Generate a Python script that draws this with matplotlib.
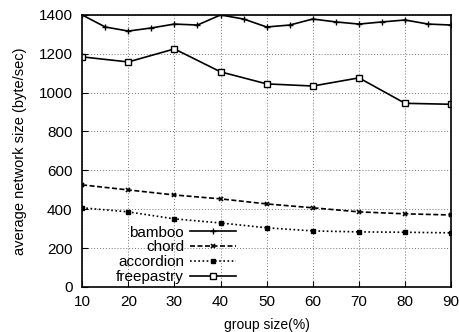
import matplotlib
matplotlib.use("Agg")
import matplotlib.pyplot as plt

plt.rcParams['font.family'] = ['Liberation Sans', 'DejaVu Sans']

# bamboo sampled every 5%, the others every 10%
x_bamboo = [10, 15, 20, 25, 30, 35, 40, 45, 50, 55, 60, 65, 70, 75, 80, 85, 90]
bamboo = [1400, 1338, 1317, 1333, 1353, 1348, 1400, 1379, 1338, 1348,
          1379, 1364, 1353, 1364, 1374, 1353, 1348]
x_group = [10, 20, 30, 40, 50, 60, 70, 80, 90]
chord = [525, 499, 473, 453, 427, 407, 386, 376, 370]
accordion = [407, 386, 350, 329, 304, 288, 283, 281, 278]
freepastry = [1184, 1158, 1225, 1107, 1045, 1034, 1076, 945, 940]

fig = plt.figure(figsize=(4.59, 3.32), dpi=100)
ax = fig.add_axes([0.179, 0.136, 0.804, 0.819])

ax.plot(x_bamboo, bamboo, color='black', lw=1.2, marker='+', ms=5, mew=1, label='bamboo')
ax.plot(x_group, chord, color='black', lw=1.2, ls=(0, (3, 1.5)), marker='x', ms=3.5, mew=1.2, label='chord')
ax.plot(x_group, accordion, color='black', lw=1.2, ls=(0, (1, 1.5)), marker='s', ms=3, label='accordion')
ax.plot(x_group, freepastry, color='black', lw=1.2, marker='s', ms=4.5, mfc='white', mew=1, label='freepastry')

ax.set_xlim(10, 90)
ax.set_ylim(0, 1400)
ax.set_xticks(x_group)
ax.set_yticks(range(0, 1401, 200))
ax.grid(True, ls=(0, (1, 2)), color='#777777', lw=0.7)
ax.tick_params(direction='in', labelsize=11, length=4)
ax.tick_params(axis='y', pad=7)
ax.tick_params(axis='x', pad=6)
for s in ax.spines.values():
    s.set_linewidth(1.2)

ax.set_xlabel('group size(%)', fontsize=10, labelpad=6)
ax.set_ylabel('average network size (byte/sec)', fontsize=10.5, labelpad=8)

ax.legend(loc='lower left', bbox_to_anchor=(0.055, -0.04), frameon=False, markerfirst=False,
          fontsize=11, handlelength=3, labelspacing=0.05, handletextpad=0.4)

fig.savefig('out.png', dpi=100)
